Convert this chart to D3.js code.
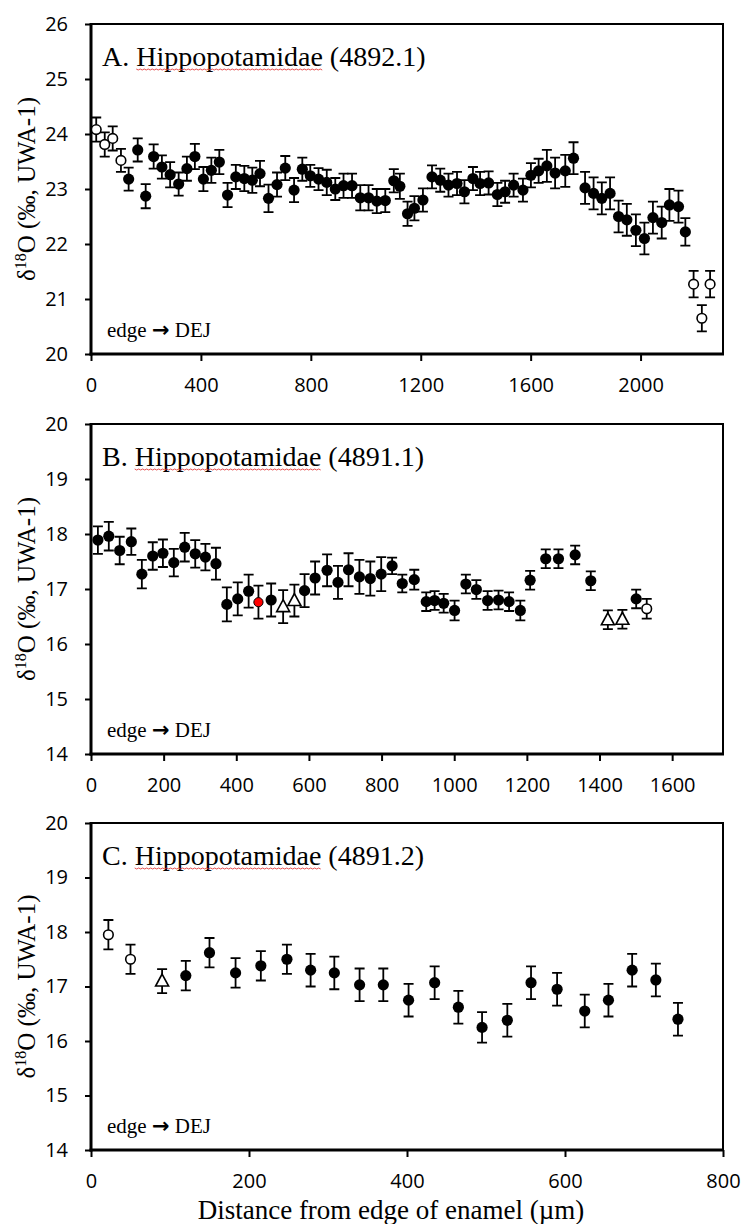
<!DOCTYPE html>
<html>
<head>
<meta charset="utf-8">
<script src="https://cdn.jsdelivr.net/npm/d3@7"></script>
<style>
    body { margin: 0; background: #fff; }
    svg { display: block; }
    .tick text { font-family: "Open Sans", sans-serif; font-size: 20px; fill: #000; }
    .tick line { stroke: #000; stroke-width: 2; }
    .serif { font-family: "Liberation Serif", "Times New Roman", serif; fill: #000; }
</style>
</head>
<body>
<div id="chart"></div>
<script>
// A. Hippopotamidae (4892.1)
var aDist = [19, 50, 79, 109, 137, 170, 199, 228, 258, 288, 319, 349, 378, 409, 438, 467, 497, 527, 558, 587,
    615, 646, 677, 707, 739, 769, 798, 828, 858, 889, 919, 950, 980, 1010, 1040, 1071, 1102, 1124, 1152, 1177,
    1208, 1241, 1271, 1301, 1332, 1359, 1390, 1416, 1447, 1479, 1507, 1538, 1572, 1601, 1629, 1659, 1689, 1726, 1756, 1798,
    1829, 1859, 1889, 1920, 1950, 1983, 2014, 2045, 2077, 2105, 2138, 2163, 2193, 2223, 2253];
var aD18O = [24.08, 23.81, 23.92, 23.52, 23.18, 23.71, 22.87, 23.59, 23.40, 23.26, 23.09, 23.37, 23.59, 23.18, 23.34, 23.49, 22.89, 23.22, 23.19, 23.16,
    23.28, 22.83, 23.08, 23.38, 22.98, 23.36, 23.24, 23.18, 23.12, 23.00, 23.06, 23.06, 22.84, 22.84, 22.78, 22.79, 23.15, 23.05, 22.55, 22.65,
    22.80, 23.22, 23.16, 23.07, 23.10, 22.95, 23.19, 23.10, 23.11, 22.90, 22.95, 23.07, 22.98, 23.25, 23.33, 23.42, 23.29, 23.33, 23.56, 23.02,
    22.92, 22.83, 22.92, 22.50, 22.44, 22.25, 22.10, 22.48, 22.39, 22.71, 22.68, 22.22, 21.27, 20.65, 21.27];
var aErr = [0.22, 0.22, 0.22, 0.21, 0.21, 0.21, 0.22, 0.22, 0.21, 0.23, 0.21, 0.22, 0.23, 0.22, 0.23, 0.22, 0.22, 0.22, 0.23, 0.23,
    0.23, 0.25, 0.22, 0.22, 0.22, 0.21, 0.20, 0.20, 0.23, 0.20, 0.22, 0.22, 0.23, 0.23, 0.22, 0.21, 0.21, 0.23, 0.22, 0.22,
    0.21, 0.21, 0.21, 0.21, 0.21, 0.21, 0.21, 0.21, 0.21, 0.21, 0.20, 0.21, 0.21, 0.22, 0.22, 0.29, 0.28, 0.29, 0.29, 0.29,
    0.29, 0.29, 0.29, 0.29, 0.29, 0.29, 0.29, 0.29, 0.29, 0.29, 0.29, 0.25, 0.24, 0.24, 0.24];
var aOpen = [0, 1, 2, 3, 72, 73, 74];
var aTriangle = [];
var aRed = [];
var aTicksX = [0, 400, 800, 1200, 1600, 2000];

// B. Hippopotamidae (4891.1)
var bDist = [19, 49, 79, 111, 140, 170, 198, 228, 258, 287, 315, 344, 374, 404, 434, 461, 496, 529, 560, 588,
    617, 650, 680, 709, 739, 769, 799, 829, 857, 890, 923, 946, 971, 1001, 1032, 1061, 1092, 1122, 1151, 1182,
    1209, 1252, 1287, 1333, 1376, 1423, 1463, 1501, 1530];
var bD18O = [17.89, 17.96, 17.70, 17.86, 17.27, 17.60, 17.65, 17.48, 17.76, 17.64, 17.58, 17.46, 16.72, 16.82, 16.96, 16.76, 16.80, 16.68, 16.79, 16.97,
    17.20, 17.34, 17.12, 17.35, 17.22, 17.19, 17.27, 17.42, 17.10, 17.17, 16.77, 16.79, 16.74, 16.61, 17.09, 16.99, 16.79, 16.80, 16.77, 16.61,
    17.16, 17.55, 17.55, 17.62, 17.15, 16.44, 16.45, 16.82, 16.64];
var bErr = [0.25, 0.26, 0.25, 0.24, 0.26, 0.25, 0.25, 0.25, 0.26, 0.25, 0.24, 0.29, 0.31, 0.30, 0.30, 0.30, 0.30, 0.30, 0.29, 0.30,
    0.30, 0.29, 0.30, 0.30, 0.31, 0.31, 0.31, 0.15, 0.16, 0.18, 0.17, 0.17, 0.17, 0.18, 0.17, 0.17, 0.17, 0.17, 0.17, 0.18,
    0.17, 0.17, 0.17, 0.17, 0.17, 0.17, 0.17, 0.17, 0.18];
var bOpen = [48];
var bTriangle = [17, 18, 45, 46];
var bRed = [15];
var bTicksX = [0, 200, 400, 600, 800, 1000, 1200, 1400, 1600];

// C. Hippopotamidae (4891.2)
var cDist = [22, 50, 90, 120, 150, 183, 215, 248, 278, 308, 340, 370, 402, 435, 465, 495, 527, 557, 590, 625, 655, 685, 715, 743];
var cD18O = [17.95, 17.50, 17.10, 17.20, 17.62, 17.25, 17.38, 17.50, 17.30, 17.25, 17.03, 17.03, 16.75, 17.07, 16.62, 16.25, 16.38, 17.07, 16.95, 16.55, 16.75, 17.30, 17.12, 16.40];
var cErr = [0.27, 0.27, 0.22, 0.27, 0.27, 0.27, 0.27, 0.27, 0.30, 0.30, 0.30, 0.30, 0.30, 0.30, 0.30, 0.28, 0.30, 0.30, 0.30, 0.30, 0.30, 0.30, 0.30, 0.30];
var cOpen = [0, 1];
var cTriangle = [2];
var cRed = [];
var cTicksX = [0, 200, 400, 600, 800];

var W = 748, H = 1224;
var PLOT_LEFT = 91, PLOT_RIGHT = 723;

/**
 * One panel of the figure: frame, axes, error bars and markers.
 */
var Panel = function (options) {
    this.initialize(options);
    this.build();
}

Panel.prototype.initialize = function (options) {
    for (var attr in options) {
        this[attr] = options[attr];
    }
    this.x = d3.scaleLinear().domain([0, this.xMax]).range([PLOT_LEFT, PLOT_RIGHT]);
    this.y = d3.scaleLinear().domain(this.yDomain).range([this.bottom, this.top]);
    var thiz = this;
    this.points = this.dist.map(function (d, i) {
        var kind = "filled";
        if (thiz.open.indexOf(i) >= 0) kind = "open";
        if (thiz.triangle.indexOf(i) >= 0) kind = "triangle";
        if (thiz.red.indexOf(i) >= 0) kind = "red";
        return { x: d, y: thiz.values[i], err: thiz.err[i], kind: kind };
    });
}

Panel.prototype.build = function () {
    var svg = this.svg;
    var thiz = this;
    var g = svg.append("g");

    // ejes
    var yTicks = d3.range(this.yDomain[0], this.yDomain[1] + 1);
    var yAxis = g.append("g")
        .attr("transform", "translate(" + PLOT_LEFT + ",0)")
        .call(d3.axisLeft(this.y).tickValues(yTicks).tickFormat(d3.format("d"))
            .tickSize(6).tickSizeOuter(0).tickPadding(17));
    var xAxis = g.append("g")
        .attr("transform", "translate(0," + this.bottom + ")")
        .call(d3.axisBottom(this.x).tickValues(this.ticksX).tickFormat(d3.format("d"))
            .tickSize(7).tickSizeOuter(0).tickPadding(17));
    yAxis.select(".domain").remove();
    xAxis.select(".domain").remove();

    // marco
    g.append("rect")
        .attr("x", PLOT_LEFT).attr("y", this.top)
        .attr("width", PLOT_RIGHT - PLOT_LEFT).attr("height", this.bottom - this.top)
        .attr("fill", "none").attr("stroke", "#000").attr("stroke-width", 2);
    g.append("line")
        .attr("x1", PLOT_LEFT).attr("x2", PLOT_LEFT)
        .attr("y1", this.top - 1).attr("y2", this.bottom + 1.5)
        .attr("stroke", "#000").attr("stroke-width", 3);
    g.append("line")
        .attr("x1", PLOT_LEFT - 1.5).attr("x2", PLOT_RIGHT + 1)
        .attr("y1", this.bottom).attr("y2", this.bottom)
        .attr("stroke", "#000").attr("stroke-width", 3);

    // barras de error
    var bars = g.append("g").attr("stroke", "#000").attr("stroke-width", 1.8).attr("fill", "none");
    bars.selectAll("path").data(this.points).enter().append("path")
        .attr("d", function (d) {
            var px = thiz.x(d.x), y0 = thiz.y(d.y - d.err), y1 = thiz.y(d.y + d.err);
            return "M" + px + "," + y0 + "V" + y1 +
                "M" + (px - 5) + "," + y1 + "H" + (px + 5) +
                "M" + (px - 5) + "," + y0 + "H" + (px + 5);
        });

    // marcadores
    var marks = g.append("g");
    this.points.forEach(function (d) {
        var px = thiz.x(d.x), py = thiz.y(d.y);
        if (d.kind == "filled") {
            marks.append("circle").attr("cx", px).attr("cy", py).attr("r", 5.6).attr("fill", "#000");
        } else if (d.kind == "open") {
            marks.append("circle").attr("cx", px).attr("cy", py).attr("r", 4.8)
                .attr("fill", "#fff").attr("stroke", "#000").attr("stroke-width", 1.6);
        } else if (d.kind == "red") {
            marks.append("circle").attr("cx", px).attr("cy", py).attr("r", 4.6)
                .attr("fill", "#ff0000").attr("stroke", "#000").attr("stroke-width", 1);
        } else {
            marks.append("path")
                .attr("d", "M" + px + "," + (py - 7) + "L" + (px + 6.5) + "," + (py + 5) + "L" + (px - 6.5) + "," + (py + 5) + "Z")
                .attr("fill", "#fff").attr("stroke", "#000").attr("stroke-width", 1.6);
        }
    });

    // titulo del panel
    var title = g.append("text").attr("class", "serif")
        .attr("x", 102).attr("y", this.top + 42)
        .attr("font-size", 28);
    title.append("tspan").text(this.letter + " ");
    title.append("tspan").text("Hippopotamidae");
    title.append("tspan").text(" (" + this.specimen + ")");
    var node = title.node();
    var start = node.getSubStringLength(0, this.letter.length + 1);
    var len = node.getSubStringLength(this.letter.length + 1, 14);
    var squiggle = [];
    for (var sx = 0; sx <= len; sx += 2) {
        squiggle.push([102 + start + sx, this.top + 45 + (sx % 4 == 0 ? 0 : 1)]);
    }
    g.append("path").attr("d", d3.line()(squiggle))
        .attr("fill", "none").attr("stroke", "#e23b3b").attr("stroke-width", 0.9);

    // edge -> DEJ
    var note = g.append("text").attr("class", "serif")
        .attr("x", 107).attr("y", this.bottom - 17)
        .attr("font-size", 21);
    note.append("tspan").text("edge ");
    note.append("tspan").attr("font-family", "DejaVu Sans").attr("font-weight", "bold")
        .attr("font-size", 21).text("\u2192");
    note.append("tspan").text(" DEJ");

    // eje y
    var yl = g.append("text").attr("class", "serif")
        .attr("transform", "translate(35," + ((this.top + this.bottom) / 2) + ")rotate(-90)")
        .attr("text-anchor", "middle")
        .attr("font-size", 25);
    yl.append("tspan").text("\u03B4");
    yl.append("tspan").attr("font-size", 16).attr("dy", -9).text("18");
    yl.append("tspan").attr("dy", 9).text("O (\u2030, UWA-1)");
}

var svg = d3.select("#chart").append("svg").attr("width", W).attr("height", H);

new Panel({ svg: svg, letter: "A.", specimen: "4892.1", top: 24, bottom: 354, yDomain: [20, 26], xMax: 2300,
    dist: aDist, values: aD18O, err: aErr, open: aOpen, triangle: aTriangle, red: aRed, ticksX: aTicksX });
new Panel({ svg: svg, letter: "B.", specimen: "4891.1", top: 424, bottom: 754, yDomain: [14, 20], xMax: 1740,
    dist: bDist, values: bD18O, err: bErr, open: bOpen, triangle: bTriangle, red: bRed, ticksX: bTicksX });
new Panel({ svg: svg, letter: "C.", specimen: "4891.2", top: 823, bottom: 1150, yDomain: [14, 20], xMax: 800,
    dist: cDist, values: cD18O, err: cErr, open: cOpen, triangle: cTriangle, red: cRed, ticksX: cTicksX });

// titulo del eje x
svg.append("text").attr("class", "serif")
    .attr("x", 391).attr("y", 1219)
    .attr("text-anchor", "middle")
    .attr("font-size", 27)
    .text("Distance from edge of enamel (\u00B5m)");
</script>
</body>
</html>
